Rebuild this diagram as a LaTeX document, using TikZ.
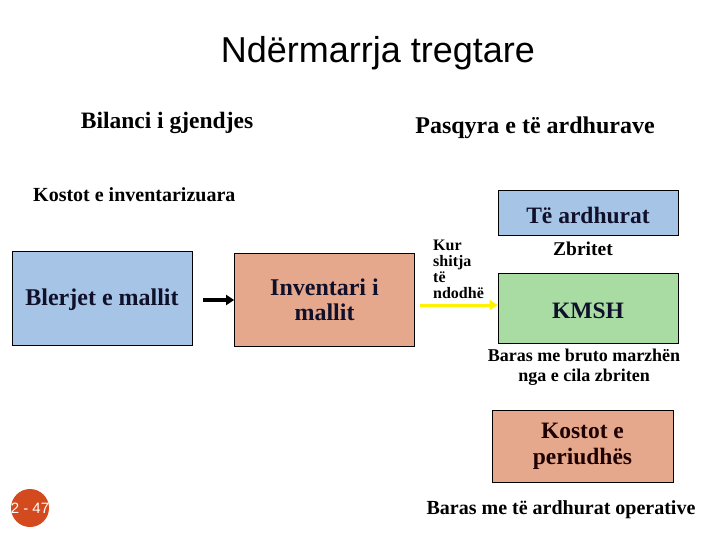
\documentclass[tikz,border=0pt]{standalone}
\usepackage{fontspec}
\setmainfont{Liberation Serif}
\setsansfont{Liberation Sans}
\usetikzlibrary{arrows.meta}
\definecolor{boxblue}{HTML}{A6C4E6}
\definecolor{boxorange}{HTML}{E6A88C}
\definecolor{boxgreen}{HTML}{A8DCA2}
\definecolor{badge}{HTML}{D24A1E}
\definecolor{inktext}{HTML}{10102A}
\tikzset{
  box/.style={draw=black, line width=0.8pt, inner sep=0pt, align=center, text=inktext,
    font=\bfseries\fontsize{24}{25}\selectfont},
  lbl/.style={inner sep=0pt, font=\bfseries\fontsize{24}{26}\selectfont},
  smalllbl/.style={inner sep=0pt, align=center, font=\bfseries\fontsize{18}{20}\selectfont},
  flow/.style={line width=3.5pt, -{Triangle[length=8pt,width=10pt]}}
}
\begin{document}
\begin{tikzpicture}[x=1pt,y=-1pt]
\useasboundingbox (0,0) rectangle (720,540);
% title
\node[inner sep=0pt, font=\sffamily\fontsize{36}{40}\selectfont] (title) at (378,53) {Ndërmarrja tregtare};
% headings
\node[lbl, font=\bfseries\fontsize{23.5}{26}\selectfont] (bil) at (167,123) {Bilanci i gjendjes};
\node[lbl] (pasq) at (535,128) {Pasqyra e të ardhurave};
\node[lbl, anchor=west, font=\bfseries\fontsize{20}{22}\selectfont] (kinv) at (33,195) {Kostot e inventarizuara};
% boxes
\node[box, fill=boxblue, minimum width=180pt, minimum height=94pt, text height=20pt] (blerjet) at (102,298) {Blerjet e mallit};
\node[box, fill=boxorange, minimum width=180pt, minimum height=93pt] (invent) at (324.5,300) {Inventari i\\mallit};
\node[box, fill=boxblue, minimum width=180pt, minimum height=45pt, text height=22pt, font=\bfseries\fontsize{23.5}{25}\selectfont] (ardh) at (588,212.5) {Të ardhurat};
\node[box, fill=boxgreen, minimum width=180pt, minimum height=70pt, text height=22pt, font=\bfseries\fontsize{23.5}{25}\selectfont] (kmsh) at (588,308) {KMSH};
\node[box, fill=boxorange, minimum width=181pt, minimum height=72pt, text=black!80!red!60!black, font=\bfseries\fontsize{23.5}{26}\selectfont] (kper) at (582.5,446) {Kostot e\\periudhës};
% side labels
\node[inner sep=0pt, anchor=north west, align=left, font=\bfseries\fontsize{16}{16}\selectfont] (kur) at (433,240) {Kur\\shitja\\të\\ndodhë};
\node[inner sep=0pt, font=\bfseries\fontsize{19.5}{20}\selectfont] (zbr) at (583,249) {Zbritet};
\node[smalllbl] (baras1) at (584,367) {Baras me bruto marzhën\\nga e cila zbriten};
\node[inner sep=0pt, font=\bfseries\fontsize{20}{22}\selectfont] (baras2) at (561,510) {Baras me të ardhurat operative};
% arrows
\coordinate (yA) at (420,305);
\draw[flow, black] (blerjet.east |- 0,300) ++(11,0) coordinate (bA) -- (invent.west |- 0,300);
\draw[flow, yellow, line width=3pt] (yA) -- (kmsh.west |- yA);
% badge
\node[circle, fill=badge, minimum size=38pt, inner sep=0pt] (badgec) at (30,508) {};
\node[text=white, inner sep=0pt, font=\sffamily\fontsize{15}{16}\selectfont] (badget) at (badgec) {2 - 47};
\end{tikzpicture}
\end{document}
